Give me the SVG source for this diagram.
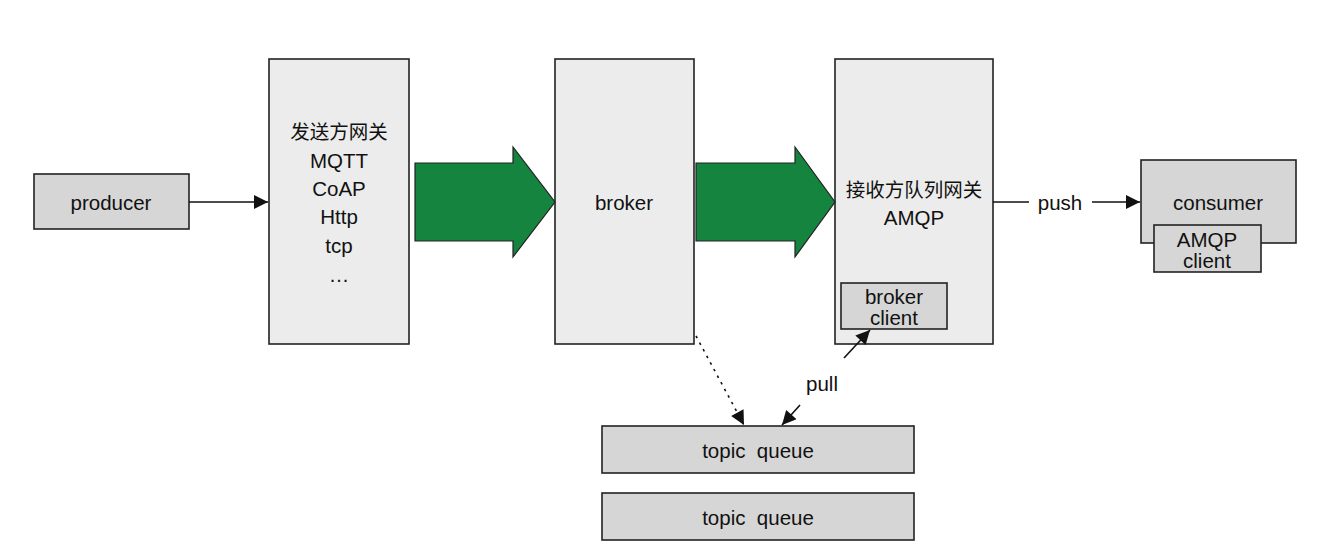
<svg xmlns="http://www.w3.org/2000/svg" width="1332" height="555" viewBox="0 0 1332 555">
<defs>
<style>
.t{font-family:"Liberation Sans","Noto Sans CJK SC",Arial,sans-serif;font-size:20.5px;fill:#111;text-anchor:middle;dominant-baseline:central;white-space:pre}
.cjk{font-size:19.5px}
.box{stroke:#222;stroke-width:1.6}
.lt{fill:#ececec}
.dk{fill:#d6d6d6}
.ln{stroke:#111;stroke-width:1.6;fill:none}
.big{fill:#14843f;stroke:#222;stroke-width:1.2}
</style>
<marker id="ah2" viewBox="0 0 10 10" refX="10" refY="5" markerWidth="18" markerHeight="14" markerUnits="userSpaceOnUse" orient="auto">
<path d="M0,0 L10,5 L0,10 z" fill="#111"/>
</marker>
</defs>
<rect width="1332" height="555" fill="#fff"/>
<g id="producer">
<rect class="box dk" x="34" y="174" width="155" height="55"/>
<text class="t" x="111" y="202">producer</text>
</g>
<g id="sender-gateway">
<rect class="box lt" x="269" y="59" width="140" height="285"/>
<text class="t cjk" x="339" y="132">发送方网关</text>
<text class="t" x="339" y="160">MQTT</text>
<text class="t" x="339" y="188">CoAP</text>
<text class="t" x="339" y="216">Http</text>
<text class="t" x="339" y="245">tcp</text>
<text class="t" x="339" y="274">…</text>
</g>
<g id="broker">
<rect class="box lt" x="555" y="59" width="139" height="285"/>
<text class="t" x="624" y="202">broker</text>
</g>
<g id="receiver-gateway">
<rect class="box lt" x="835" y="59" width="158" height="285"/>
<text class="t cjk" x="914" y="190">接收方队列网关</text>
<text class="t" x="914" y="217">AMQP</text>
</g>
<g id="broker-client">
<rect class="box dk" x="841" y="283" width="106" height="46"/>
<text class="t" x="894" y="296">broker</text>
<text class="t" x="894" y="317">client</text>
</g>
<g id="consumer">
<rect class="box dk" x="1141" y="160" width="155" height="83"/>
<text class="t" x="1218" y="202">consumer</text>
</g>
<g id="amqp-client">
<rect class="box dk" x="1154" y="225" width="107" height="47"/>
<text class="t" x="1207" y="239">AMQP</text>
<text class="t" x="1207" y="260">client</text>
</g>
<g id="topic-queue-1">
<rect class="box dk" x="602" y="426" width="312" height="47"/>
<text class="t" x="758" y="450" xml:space="preserve">topic  queue</text>
</g>
<g id="topic-queue-2">
<rect class="box dk" x="602" y="493" width="312" height="47"/>
<text class="t" x="758" y="517" xml:space="preserve">topic  queue</text>
</g>
<g id="connectors">
<line class="ln" x1="189" y1="202" x2="268" y2="202" marker-end="url(#ah2)"/>
<path class="big" d="M415,163 L513,163 L513,147 L555,202 L513,257 L513,241 L415,241 z"/>
<path class="big" d="M696,163 L795,163 L795,147 L835,202 L795,257 L795,241 L696,241 z"/>
<line class="ln" x1="993" y1="202" x2="1029" y2="202"/>
<line class="ln" x1="1092" y1="202" x2="1140" y2="202" marker-end="url(#ah2)"/>
<text class="t" x="1060" y="202">push</text>
<line class="ln" x1="696" y1="336" x2="744" y2="425" stroke-dasharray="2.5,5" stroke-width="2.2" marker-end="url(#ah2)"/>
<line class="ln" x1="800" y1="405" x2="782" y2="425" marker-end="url(#ah2)"/>
<line class="ln" x1="844" y1="358" x2="870" y2="330" marker-end="url(#ah2)"/>
<text class="t" x="822" y="383">pull</text>
</g>
</svg>
